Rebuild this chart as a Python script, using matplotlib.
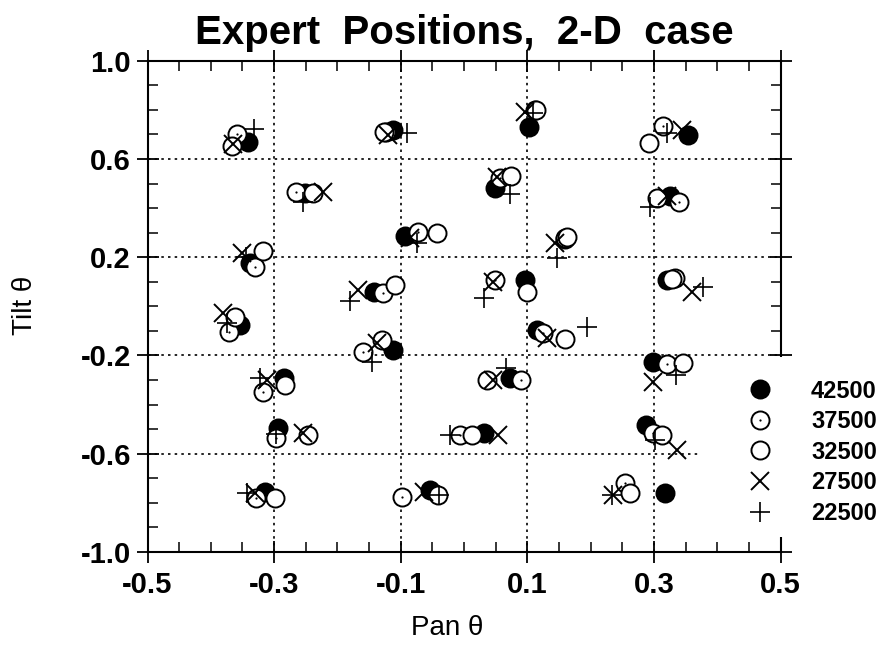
import matplotlib
matplotlib.use('Agg')
import matplotlib.pyplot as plt
from matplotlib.ticker import MultipleLocator
from matplotlib.legend_handler import HandlerTuple
from matplotlib.patches import Rectangle
from matplotlib import font_manager

# series labels (light intensity levels)
labels = ['42500', '37500', '32500', '27500', '22500']

pan_42500 = [-0.342, -0.112, 0.102, 0.354, -0.251, 0.049, 0.325, -0.093, 0.160, -0.338, -0.143, 0.096, 0.320,
             -0.354, 0.115, -0.112, 0.299, -0.285, 0.073, -0.294, 0.032, 0.288, -0.314, -0.054, 0.318]
tilt_42500 = [0.670, 0.718, 0.732, 0.698, 0.460, 0.481, 0.449, 0.288, 0.275, 0.175, 0.058, 0.107, 0.107,
              -0.076, -0.096, -0.178, -0.226, -0.293, -0.293, -0.497, -0.515, -0.483, -0.755, -0.748, -0.762]

pan_37500 = [-0.358, -0.123, 0.112, 0.314, -0.265, 0.057, 0.339, -0.072, 0.160, -0.330, -0.128, 0.049, 0.333,
             -0.372, 0.125, -0.159, 0.321, -0.317, 0.090, -0.297, -0.006, 0.299, -0.328, -0.098, 0.254]
tilt_37500 = [0.703, 0.712, 0.800, 0.734, 0.467, 0.521, 0.426, 0.304, 0.277, 0.161, 0.055, 0.106, 0.114,
              -0.103, -0.110, -0.185, -0.236, -0.348, -0.300, -0.538, -0.524, -0.517, -0.782, -0.776, -0.721]

pan_32500 = [-0.367, -0.126, 0.113, 0.293, -0.238, 0.075, 0.305, -0.043, 0.163, -0.317, -0.109, 0.099, 0.328,
             -0.362, 0.160, -0.130, 0.346, -0.283, 0.036, -0.246, 0.012, 0.312, -0.299, -0.041, 0.262]
tilt_32500 = [0.653, 0.710, 0.800, 0.664, 0.460, 0.531, 0.440, 0.297, 0.282, 0.225, 0.087, 0.060, 0.110,
              -0.042, -0.133, -0.137, -0.232, -0.321, -0.300, -0.524, -0.524, -0.524, -0.782, -0.768, -0.762]

pan_27500 = [-0.365, -0.120, 0.096, 0.344, -0.223, 0.052, 0.320, -0.085, 0.144, -0.351, -0.167, 0.046, 0.360,
             -0.380, 0.131, -0.138, 0.299, -0.312, 0.045, -0.254, 0.054, 0.337, -0.330, -0.064, 0.236]
tilt_27500 = [0.661, 0.698, 0.793, 0.718, 0.467, 0.528, 0.450, 0.280, 0.257, 0.216, 0.066, 0.100, 0.060,
              -0.029, -0.130, -0.150, -0.307, -0.300, -0.300, -0.517, -0.524, -0.585, -0.762, -0.755, -0.768]

pan_22500 = [-0.332, -0.090, 0.109, 0.320, -0.254, 0.073, 0.294, -0.075, 0.147, -0.345, -0.180, 0.031, 0.378,
             -0.374, 0.194, -0.146, 0.335, -0.322, 0.067, -0.297, -0.022, 0.302, -0.343, -0.040, 0.234]
tilt_22500 = [0.721, 0.707, 0.786, 0.707, 0.426, 0.457, 0.406, 0.257, 0.199, 0.200, 0.023, 0.033, 0.080,
              -0.069, -0.083, -0.226, -0.280, -0.293, -0.253, -0.520, -0.524, -0.545, -0.759, -0.770, -0.768]

xticks = [-0.5, -0.3, -0.1, 0.1, 0.3, 0.5]
yticks = [-1.0, -0.6, -0.2, 0.2, 0.6, 1.0]


def pick_font(names):
    for n in names:
        try:
            font_manager.findfont(n, fallback_to_default=False)
            return n
        except Exception:
            pass
    return 'DejaVu Sans'


base = pick_font(['Liberation Sans', 'Arial', 'DejaVu Sans'])
plt.rcParams['font.family'] = base

fig = plt.figure(figsize=(8.92, 6.45), dpi=100)
ax = fig.add_axes([0.1654, 0.1443, 0.7096, 0.7614])

ms = 13
h1, = ax.plot(pan_42500, tilt_42500, 'o', ms=ms, mfc='black', mec='black', mew=1.4, ls='none')
h2, = ax.plot(pan_37500, tilt_37500, 'o', ms=ms, mfc='white', mec='black', mew=1.4, ls='none')
h2d, = ax.plot(pan_37500, tilt_37500, 'o', ms=1.6, mfc='black', mec='black', mew=0, ls='none')
h3, = ax.plot(pan_32500, tilt_32500, 'o', ms=ms, mfc='white', mec='black', mew=1.4, ls='none')
h4, = ax.plot(pan_27500, tilt_27500, 'x', ms=13, mec='black', mew=1.4, ls='none')
h5, = ax.plot(pan_22500, tilt_22500, '+', ms=14, mec='black', mew=1.2, ls='none')

ax.set_xlim(-0.5, 0.5)
ax.set_ylim(-1.0, 1.0)
ax.set_xticks(xticks)
ax.set_yticks(yticks)
ax.set_xticklabels(['%.1f' % v for v in xticks])
ax.set_yticklabels(['%.1f' % v for v in yticks])
ax.xaxis.set_minor_locator(MultipleLocator(0.05))
ax.yaxis.set_minor_locator(MultipleLocator(0.1))
ax.tick_params(which='major', direction='inout', length=16, width=1.3,
               top=True, right=True, labelsize=21)
ax.tick_params(axis='x', which='major', pad=6)
ax.tick_params(axis='y', which='major', pad=4)
ax.tick_params(which='minor', direction='in', length=7, width=1.1, top=True, right=True)
for lab in ax.get_xticklabels() + ax.get_yticklabels():
    lab.set_fontweight('bold')
for sp in ax.spines.values():
    sp.set_linewidth(1.5)

ax.grid(True, which='major', color='black', linestyle=(0, (1.5, 2.5)), linewidth=1.2)
ax.set_axisbelow(True)

fig.text(447 / 892, 1 - 628 / 645, 'Pan θ', fontsize=20, ha='center', va='center')
fig.text(25 / 892, 1 - 305 / 645, 'Tilt θ', fontsize=20, ha='center', va='center', rotation=90)

ax.set_title('Expert  Positions,  2-D  case', fontsize=29, fontweight='bold', pad=12)

# white area behind the legend, it hides grid and right spine there
ax.add_patch(Rectangle((0.873, 0.03), 0.5, 0.367, transform=ax.transAxes,
                       facecolor='white', edgecolor='none', clip_on=False, zorder=4))

leg = ax.legend([h1, (h2, h2d), h3, h4, h5], labels,
                handler_map={tuple: HandlerTuple(ndivide=1, pad=0)},
                loc='upper left', bbox_to_anchor=(0.929, 0.375),
                frameon=False, prop={'weight': 'bold', 'size': 17},
                handlelength=1.1, handletextpad=1.6, labelspacing=0.32,
                borderpad=0.5, borderaxespad=0)
leg.set_zorder(10)

fig.savefig('out.png', dpi=100)
